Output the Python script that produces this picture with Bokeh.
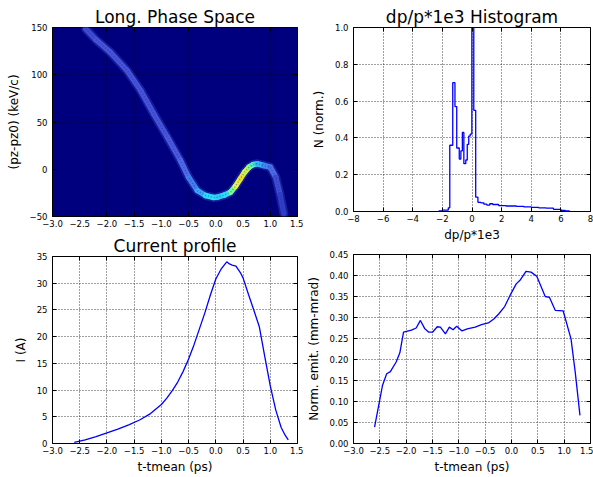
from bokeh.plotting import figure
from bokeh.layouts import row, column
from bokeh.models import (LinearAxis, FixedTicker, CustomJSTickFormatter, Range1d, ColumnDataSource,
                          CustomLabelingPolicy)
from bokeh.transform import linear_cmap
from bokeh.embed import file_html
from bokeh.resources import INLINE

# ---------------- data ----------------
# Long. phase space: centre line of the particle band and its relative density
ps_t = [-2.39, -2.2, -1.94, -1.63, -1.38, -1.14, -0.89, -0.65, -0.50, -0.34, -0.19, -0.05,
        0.03, 0.15, 0.27, 0.36, 0.45, 0.53, 0.61, 0.68, 0.76, 0.88, 1.0, 1.1, 1.18, 1.25]
ps_pz = [148.6, 137.0, 123.9, 104.5, 83.3, 58.7, 33.9, 9.3, -8.4, -22.5, -27.8, -29.8,
         -29.6, -27.5, -24.3, -18.0, -10.1, -3.0, 2.2, 4.8, 5.8, 4.0, 2.2, -8.4, -27.0, -47.0]
ps_dens = [0.18, 0.2, 0.2, 0.2, 0.2, 0.2, 0.2, 0.22, 0.25, 0.3, 0.36, 0.4,
           0.38, 0.35, 0.42, 0.5, 0.6, 0.55, 0.5, 0.45, 0.38, 0.3, 0.28, 0.2, 0.18, 0.15]

# dp/p*1e3 histogram: bin edges and normalised counts
hist_edges = [-2.25, -2.0, -1.6, -1.5, -1.3, -1.15, -1.03, -0.86, -0.75, -0.65, -0.55, -0.42,
              -0.32, -0.22, -0.12, -0.01, 0.12, 0.25, 0.4, 0.6, 0.8, 1.0, 1.2, 1.4, 1.8, 2.3,
              3.0, 3.5, 4.0, 4.5, 5.0, 5.5, 6.0, 6.3, 6.6]
hist_vals = [0.003, 0.008, 0.02, 0.36, 0.70, 0.57, 0.345, 0.285, 0.33, 0.43, 0.26,
             0.28, 0.365, 0.41, 0.42, 1.0, 0.55, 0.078, 0.05, 0.047, 0.04, 0.035, 0.042, 0.038,
             0.032, 0.03, 0.028, 0.025, 0.022, 0.02, 0.018, 0.012, 0.006, 0.003]

# Current profile
cur_t = [-2.6, -2.4, -2.2, -2.0, -1.8, -1.6, -1.4, -1.2, -1.0, -0.9, -0.8, -0.7, -0.6, -0.5,
         -0.4, -0.3, -0.2, -0.1, 0.0, 0.1, 0.2, 0.25, 0.3, 0.37, 0.45, 0.5, 0.6, 0.7, 0.8,
         0.9, 1.0, 1.1, 1.2, 1.27, 1.33]
cur_I = [0.2, 0.7, 1.3, 2.0, 2.7, 3.5, 4.4, 5.6, 7.3, 8.5, 9.9, 11.5, 13.5, 15.8,
         18.5, 21.5, 24.5, 27.8, 30.8, 32.7, 34.0, 33.6, 33.4, 33.2, 32.0, 31.0, 27.9, 24.9, 21.8,
         16.2, 10.8, 6.3, 3.0, 1.6, 0.7]

# Normalised slice emittance
em_t = [-2.60, -2.45, -2.37, -2.30, -2.19, -2.12, -2.05, -1.90, -1.81, -1.73, -1.65, -1.57,
        -1.50, -1.41, -1.35, -1.255, -1.18, -1.11, -1.04, -0.94, -0.84, -0.69, -0.57, -0.44,
        -0.33, -0.24, -0.13, -0.03, 0.09, 0.17, 0.275, 0.37, 0.48, 0.64, 0.72, 0.83, 0.98,
        1.13, 1.21, 1.30]
em_v = [0.039, 0.138, 0.166, 0.171, 0.194, 0.216, 0.265, 0.270, 0.275, 0.293, 0.274, 0.265,
        0.265, 0.278, 0.277, 0.261, 0.277, 0.271, 0.279, 0.268, 0.273, 0.277, 0.283, 0.287,
        0.297, 0.309, 0.326, 0.352, 0.380, 0.390, 0.410, 0.408, 0.398, 0.350, 0.348, 0.317,
        0.316, 0.249, 0.170, 0.067]

# tick positions
t_ticks = [-3.0, -2.5, -2.0, -1.5, -1.0, -0.5, 0.0, 0.5, 1.0, 1.5]
ps_yticks = [-50, 0, 50, 100, 150]
hist_xticks = [-8, -6, -4, -2, 0, 2, 4, 6, 8]
hist_yticks = [0.0, 0.2, 0.4, 0.6, 0.8, 1.0]
cur_yticks = [0, 5, 10, 15, 20, 25, 30, 35]
em_yticks = [0.0, 0.05, 0.10, 0.15, 0.20, 0.25, 0.30, 0.35, 0.40, 0.45]

FONT = "DejaVu Sans"
BLUE = "#0000ff"


def fmt(dec):
    return CustomJSTickFormatter(code="return tick.toFixed(%d).replace('-', '\\u2212');" % dec)


def make_fig(w, h, xr, yr, borders, xticks, yticks, xdec, ydec, title=None, xlabel=None, ylabel=None):
    bt, br, bb, bl = borders
    p = figure(width=w, height=h, x_range=Range1d(*xr), y_range=Range1d(*yr),
               output_backend="svg", toolbar_location=None, tools="",
               min_border_top=bt, min_border_right=br, min_border_bottom=bb, min_border_left=bl)
    p.background_fill_color = "white"
    p.border_fill_color = "white"
    p.outline_line_color = "black"
    p.outline_line_width = 1
    p.outline_line_alpha = 1
    if title:
        p.title.text = title
        p.title.text_font = FONT
        p.title.text_font_size = "17px"
        p.title.text_font_style = "normal"
        p.title.align = "center"
        p.title.text_color = "black"
        p.title.standoff = 2
    for ax, ticks, dec, lab in ((p.xaxis[0], xticks, xdec, xlabel), (p.yaxis[0], yticks, ydec, ylabel)):
        ax.ticker = FixedTicker(ticks=ticks)
        ax.formatter = fmt(dec)
        ax.major_label_text_font = FONT
        ax.major_label_text_font_size = "8.5px"
        ax.major_label_text_color = "black"
        ax.major_tick_in = 4
        ax.major_tick_out = 0
        ax.minor_tick_in = 0
        ax.minor_tick_out = 0
        ax.axis_line_color = None
        ax.major_tick_line_color = "black"
        if lab:
            ax.axis_label = lab
            ax.axis_label_text_font = FONT
            ax.axis_label_text_font_size = "12px"
            ax.axis_label_text_font_style = "normal"
            ax.axis_label_text_color = "black"
    p.xaxis[0].major_label_standoff = 3
    p.yaxis[0].major_label_standoff = 5
    p.xaxis[0].axis_label_standoff = 3
    p.yaxis[0].axis_label_standoff = 6
    # tick marks only (no labels) on the top and right edges
    for loc, ticks in (("above", xticks), ("right", yticks)):
        a = LinearAxis(ticker=FixedTicker(ticks=ticks), major_label_text_font_size="0px",
                       major_label_policy=CustomLabelingPolicy(
                           code="for (const i of [...indices]) { indices.unset(i) } return indices"),
                       major_label_standoff=0, major_tick_in=4, major_tick_out=0,
                       minor_tick_in=0, minor_tick_out=0, axis_line_color=None,
                       major_tick_line_color="black")
        p.add_layout(a, loc)
    for g in (p.xgrid[0], p.ygrid[0]):
        g.grid_line_color = "black"
        g.grid_line_dash = "1 2"
        g.grid_line_alpha = 0.75
        g.grid_line_width = 1
    return p


# ---- Long. Phase Space ----
p1 = make_fig(303, 232, (-3.0, 1.5), (-50, 150), (27, 6, 16, 52), t_ticks, ps_yticks, 1, 0,
              title="Long. Phase Space", ylabel="(pz-pz0) (keV/c)")
p1.background_fill_color = "#00007f"
p1.xgrid[0].grid_line_alpha = 0.6
p1.ygrid[0].grid_line_alpha = 0.6

stops = [(0.0, (0, 0, 127)), (0.15, (40, 52, 190)), (0.22, (82, 96, 226)), (0.3, (60, 140, 245)),
         (0.38, (40, 220, 250)), (0.46, (120, 250, 150)), (0.55, (230, 245, 60)),
         (0.7, (255, 140, 0)), (1.0, (200, 0, 0))]
palette = []
for i in range(256):
    f = i / 255
    for (a, ca), (b, cb) in zip(stops[:-1], stops[1:]):
        if a <= f <= b:
            u = (f - a) / (b - a)
            c = tuple(int(round(ca[k] + (cb[k] - ca[k]) * u)) for k in range(3))
            palette.append("#%02x%02x%02x" % c)
            break

seg = ColumnDataSource(dict(
    x0=ps_t[:-1], y0=ps_pz[:-1], x1=ps_t[1:], y1=ps_pz[1:],
    d=[(a + b) / 2 for a, b in zip(ps_dens[:-1], ps_dens[1:])]))
p1.line(ps_t, ps_pz, line_width=9, line_color="#3040c0", line_alpha=0.45, line_join="round", line_cap="round")
p1.segment("x0", "y0", "x1", "y1", source=seg, line_width=5.5, line_cap="round",
           line_color=linear_cmap("d", palette, 0, 1))
p1.line(ps_t, ps_pz, line_width=1.5, line_color="#1a2a9a", line_alpha=0.45, line_dash="1 2")

# ---- dp/p*1e3 Histogram ----
p2 = make_fig(290, 244, (-8, 8), (0, 1.0), (27, 3, 28, 42), hist_xticks, hist_yticks, 0, 1,
              title="dp/p*1e3 Histogram", xlabel="dp/p*1e3", ylabel="N (norm.)")
hx = list(hist_edges)
hy = list(hist_vals) + [hist_vals[-1]]
p2.step(hx, hy, mode="after", line_color=BLUE, line_width=1.3)

# ---- Current profile ----
p3 = make_fig(303, 245, (-3.0, 1.5), (0, 35), (22, 6, 34, 52), t_ticks, cur_yticks, 1, 0,
              title="Current profile", xlabel="t-tmean (ps)", ylabel="I (A)")
p3.line(cur_t, cur_I, line_color=BLUE, line_width=1.3)

# ---- Norm. emittance ----
p4 = make_fig(290, 233, (-3.0, 1.5), (0, 0.45), (10, 3, 34, 42), t_ticks, em_yticks, 1, 2,
              xlabel="t-tmean (ps)", ylabel="Norm. emit. (mm-mrad)")
p4.line(em_t, em_v, line_color=BLUE, line_width=1.3)

layout = row(column(p1, p3), column(p2, p4))
open("out.html", "w").write(file_html(layout, INLINE))
